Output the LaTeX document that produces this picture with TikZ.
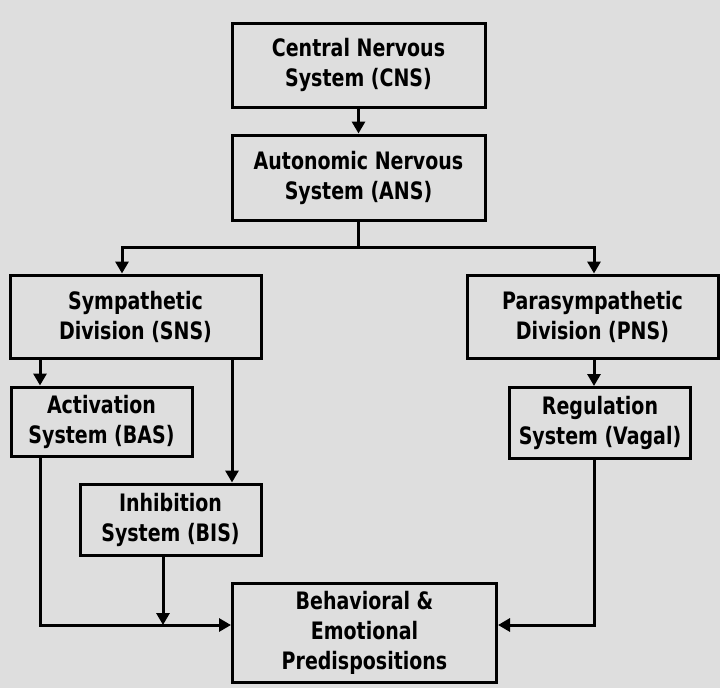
\documentclass[tikz,border=0pt]{standalone}
\usepackage{fontspec}
\setmainfont{DejaVu Sans Condensed}[BoldFont={DejaVu Sans Condensed Bold}, FakeStretch=0.88]
\usetikzlibrary{arrows.meta}
\definecolor{bg}{gray}{0.87}
\tikzset{
  box/.style={draw=black, line width=3pt, fill=bg, align=center, inner sep=0pt,
    font=\fontsize{24}{30}\selectfont\bfseries},
  arr/.style={line width=3pt, -{Triangle[length=12pt,width=13pt]}},
}
\begin{document}
\begin{tikzpicture}[x=1pt,y=-1pt]
\useasboundingbox[fill=bg] (0,0) rectangle (720,688);
\node[box, minimum width=253pt, minimum height=84pt] (CNS) at (358.5,65) {Central Nervous\\System (CNS)};
\node[box, minimum width=253pt, minimum height=85pt] (ANS) at (358.5,177.5) {Autonomic Nervous\\System (ANS)};
\node[box, minimum width=251pt, minimum height=83pt] (SNS) at (135.5,316.5) {Sympathetic\\Division (SNS)};
\node[box, minimum width=251pt, minimum height=83pt] (PNS) at (592.5,316.5) {Parasympathetic\\Division (PNS)};
\node[box, minimum width=181pt, minimum height=69pt] (BAS) at (101.5,421.5) {Activation\\System (BAS)};
\node[box, minimum width=181pt, minimum height=71pt] (BIS) at (170.5,519.5) {Inhibition\\System (BIS)};
\node[box, minimum width=181pt, minimum height=71pt] (VAG) at (600,423) {Regulation\\System (Vagal)};
\node[box, minimum width=264pt, minimum height=99pt] (BEH) at (364.5,632.5) {Behavioral \&\\Emotional\\Predispositions};
\coordinate (ys) at (0,247);
\coordinate (yb) at (0,625);
\coordinate (xs) at (122,0);
\coordinate (xq) at (594,0);
\coordinate (xa) at (40,0);
\coordinate (xb) at (232,0);
\coordinate (xc) at (163,0);
\draw[arr] (CNS.south) -- (ANS.north);
\draw[arr] (ANS.south) -- (ANS.south |- ys) -| (SNS.north -| xs);
\draw[arr] (ANS.south |- ys) -| (PNS.north -| xq);
\draw[arr] (SNS.south -| xa) -- (BAS.north -| xa);
\draw[arr] (SNS.south -| xb) -- (BIS.north -| xb);
\draw[arr] (PNS.south -| xq) -- (VAG.north -| xq);
\draw[arr] (BAS.south -| xa) |- (BEH.west |- yb);
\draw[arr] (BIS.south -| xc) -- (xc |- yb);
\draw[arr] (VAG.south -| xq) |- (BEH.east |- yb);
\end{tikzpicture}
\end{document}
